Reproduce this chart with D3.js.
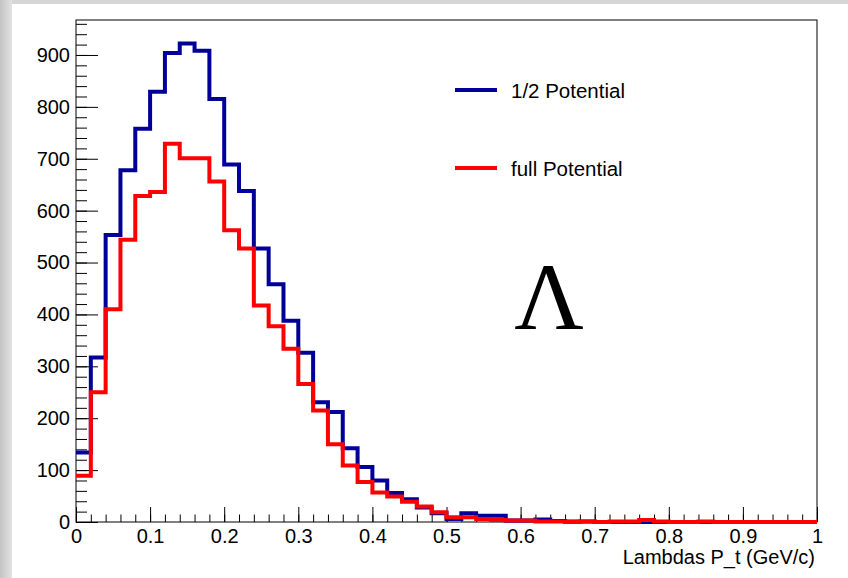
<!DOCTYPE html>
<html>
<head>
<meta charset="utf-8">
<script src="https://cdn.jsdelivr.net/npm/d3@7"></script>
<style>
  html, body { margin: 0; padding: 0; background: #ffffff; }
  svg { display: block; }
</style>
</head>
<body>
<svg id="chart" width="848" height="578"></svg>
<script>
// Histogram binning: 50 bins of width 0.02 GeV/c over [0, 1]
const binEdges = d3.range(51).map(i => +(i * 0.02).toFixed(2));

// Bin contents, "1/2 Potential"
const halfPotential = [
  134, 317, 553, 678, 758, 829, 904, 922, 908, 815,
  689, 638, 527, 458, 388, 326, 231, 212, 142, 106,
   80,  56,  44,  28,  17,   6,  17,  12,  12,   3,
    3,   5,   2,   1,   1,   0,   0,   0,   0,   0,
    0,   0,   0,   0,   0,   0,   0,   0,   0,   0
];

// Bin contents, "full Potential"
const fullPotential = [
   89, 250, 410, 544, 628, 636, 729, 701, 701, 656,
  562, 527, 417, 377, 334, 266, 215, 150, 109,  77,
   57,  49,  39,  30,  19,   9,   9,   6,   4,   3,
    3,   1,   1,   0,   1,   0,   1,   1,   4,   1,
    0,   0,   1,   0,   0,   0,   0,   0,   0,   0
];

const seriesNames = ["1/2 Potential", "full Potential"];
const seriesColors = ["#000099", "#ff0000"];

const xTickValues = [0, 0.1, 0.2, 0.3, 0.4, 0.5, 0.6, 0.7, 0.8, 0.9, 1];
const xTickLabels = ["0", "0.1", "0.2", "0.3", "0.4", "0.5", "0.6", "0.7", "0.8", "0.9", "1"];
const yTickValues = [0, 100, 200, 300, 400, 500, 600, 700, 800, 900];
const yMax = 967.4;

const axisTitle = "Lambdas P_t (GeV/c)";
const particleLabel = "\u039B";

// Frame geometry
const frame = { left: 76, right: 817, top: 20, bottom: 522 };
const labelFont = "'Liberation Sans', Arial, Helvetica, sans-serif";
const labelSize = 20;
const legendSize = 20.5;

const svg = d3.select("#chart");

// Canvas background with a soft grey border on the left and top
const defs = svg.append("defs");
const grad = defs.append("linearGradient").attr("id", "edgeShade")
  .attr("x1", "0").attr("x2", "1").attr("y1", "0").attr("y2", "0");
grad.append("stop").attr("offset", "0").attr("stop-color", "#c4c4c4");
grad.append("stop").attr("offset", "1").attr("stop-color", "#e2e2e2");

svg.append("rect").attr("x", 0).attr("y", 0).attr("width", 848).attr("height", 578)
  .attr("fill", "#d6d6d6");
svg.append("rect").attr("x", 0).attr("y", 0).attr("width", 12).attr("height", 578)
  .attr("fill", "url(#edgeShade)");
svg.append("rect").attr("x", 12).attr("y", 4).attr("width", 836).attr("height", 574)
  .attr("fill", "#ffffff");

const x = d3.scaleLinear().domain([0, 1]).range([frame.left, frame.right]);
const y = d3.scaleLinear().domain([0, yMax]).range([frame.bottom, frame.top]);

// Minor and major ticks, drawn inward like a ROOT frame
const yMinor = d3.range(0, yMax, 20);
const xMinor = d3.range(0, 1.0001, 0.02);

svg.append("g")
  .attr("transform", `translate(${frame.left},0)`)
  .call(d3.axisLeft(y).tickValues(yMinor).tickSize(-11).tickSizeOuter(0).tickFormat(""))
  .call(g => g.select(".domain").remove());

svg.append("g")
  .attr("transform", `translate(${frame.left},0)`)
  .call(d3.axisLeft(y).tickValues(yTickValues).tickSize(-22).tickSizeOuter(0).tickPadding(6)
    .tickFormat(d => String(d)))
  .call(g => g.select(".domain").remove())
  .call(g => g.selectAll("text")
    .attr("font-family", labelFont).attr("font-size", labelSize).attr("fill", "#000"));

svg.append("g")
  .attr("transform", `translate(0,${frame.bottom})`)
  .call(d3.axisBottom(x).tickValues(xMinor).tickSize(-7.5).tickSizeOuter(0).tickFormat(""))
  .call(g => g.select(".domain").remove());

svg.append("g")
  .attr("transform", `translate(0,${frame.bottom})`)
  .call(d3.axisBottom(x).tickValues(xTickValues).tickSize(-15).tickSizeOuter(0).tickPadding(7)
    .tickFormat((d, i) => xTickLabels[i]))
  .call(g => g.select(".domain").remove())
  .call(g => g.selectAll("text")
    .attr("font-family", labelFont).attr("font-size", labelSize).attr("fill", "#000"));

svg.selectAll(".tick line").attr("stroke", "#000").attr("stroke-width", 1);

// Frame
svg.append("rect")
  .attr("x", frame.left).attr("y", frame.top)
  .attr("width", frame.right - frame.left).attr("height", frame.bottom - frame.top)
  .attr("fill", "none").attr("stroke", "#000").attr("stroke-width", 1);

// Step outlines of the two histograms
const stepLine = d3.line()
  .x(d => x(d.edge))
  .y(d => y(d.value))
  .curve(d3.curveStepAfter);

function binPoints(values) {
  const pts = values.map((v, i) => ({ edge: binEdges[i], value: v }));
  pts.push({ edge: binEdges[binEdges.length - 1], value: values[values.length - 1] });
  return pts;
}

[halfPotential, fullPotential].forEach((values, k) => {
  svg.append("path")
    .datum(binPoints(values))
    .attr("d", stepLine)
    .attr("fill", "none")
    .attr("stroke", seriesColors[k])
    .attr("stroke-width", 4)
    .attr("stroke-linejoin", "miter")
    .attr("stroke-linecap", "butt");
});

// Legend
const legendRows = [{ y: 90 }, { y: 168 }];
legendRows.forEach((row, k) => {
  svg.append("line")
    .attr("x1", 455).attr("x2", 497).attr("y1", row.y).attr("y2", row.y)
    .attr("stroke", seriesColors[k]).attr("stroke-width", 4);
  svg.append("text")
    .attr("x", 511).attr("y", row.y + 7.5)
    .attr("font-family", labelFont).attr("font-size", legendSize).attr("fill", "#000")
    .text(seriesNames[k]);
});

// Axis title
svg.append("text")
  .attr("x", 815).attr("y", 563.5)
  .attr("text-anchor", "end")
  .attr("font-family", labelFont).attr("font-size", labelSize).attr("fill", "#000")
  .text(axisTitle);

// Particle symbol
svg.append("text")
  .attr("x", 549).attr("y", 329)
  .attr("text-anchor", "middle")
  .attr("font-family", "'Liberation Serif', 'Times New Roman', serif")
  .attr("font-size", 96).attr("fill", "#000")
  .text(particleLabel);
</script>
</body>
</html>
